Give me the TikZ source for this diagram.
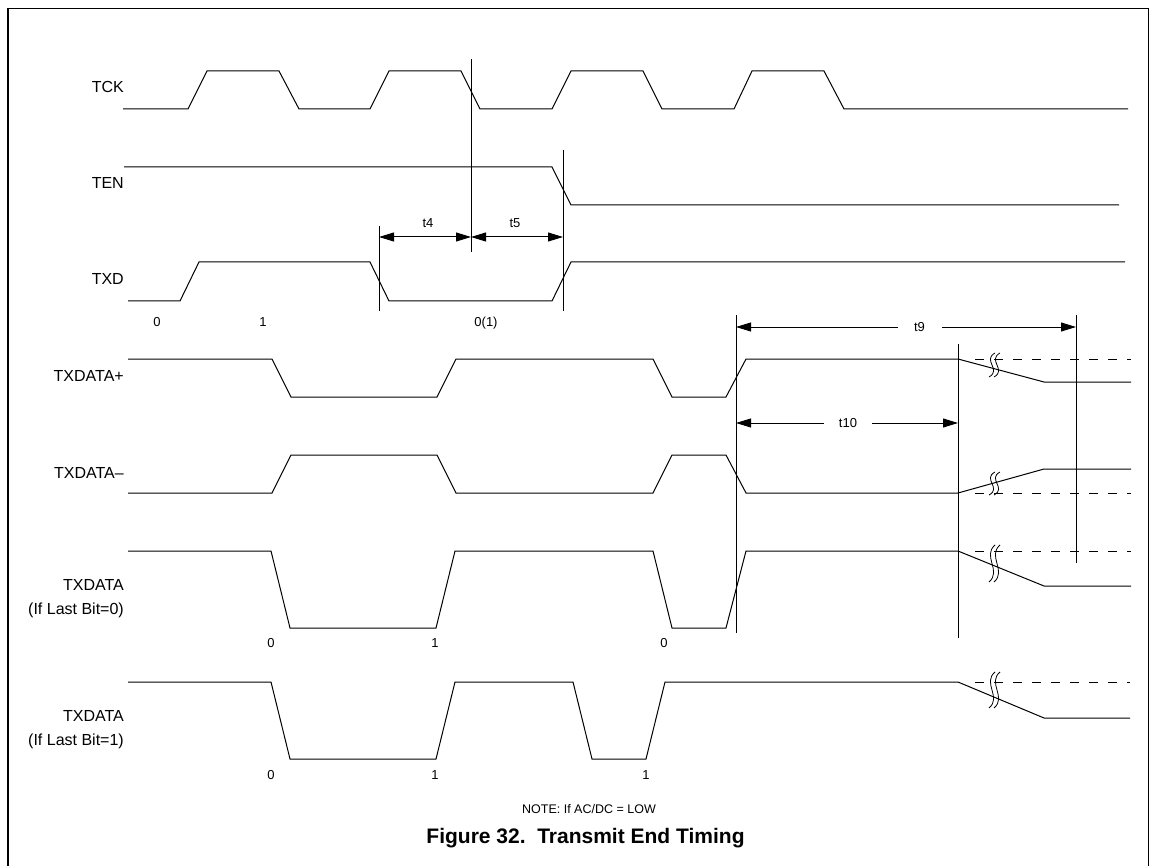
\documentclass[tikz,border=0pt]{standalone}
\usepackage{fontspec}
\setmainfont{Liberation Sans}
\usetikzlibrary{arrows.meta}
\newcommand\brkmark[3]{%
  \foreach \dx in {0,5}{%
    \draw[brkline] ({#1+\dx+3},{#2-#3/2}) .. controls ({#1+\dx-10},{#2-#3/5}) and ({#1+\dx+10},{#2+#3/5}) .. ({#1+\dx-3},{#2+#3/2});}}
\begin{document}
\begin{tikzpicture}[x=1pt,y=-1pt,
  wave/.style={line width=1pt,line join=miter},
  vline/.style={line width=1pt},
  dashpart/.style={line width=1pt,dash pattern=on 9pt off 10pt},
  brkline/.style={line width=0.8pt},
  dim/.style={line width=1pt,{Triangle[length=15pt,width=9pt]}-{Triangle[length=15pt,width=9pt]}},
  framel/.style={line width=1.8pt},
  lbl/.style={font=\fontsize{16}{23.3}\selectfont,anchor=east,align=right,inner sep=0pt},
  sgl/.style={lbl,text height=11.5pt,text depth=0pt},
  val/.style={font=\fontsize{13}{15}\selectfont,inner sep=0pt,text height=9.3pt,text depth=0pt},
  gapval/.style={val,fill=white,minimum width=44pt,minimum height=12pt}
]
\useasboundingbox (0,0) rectangle (1150,866);
% frame
\draw[framel] (8,866) -- (8,8.5) -- (1148.5,8.5) -- (1148.5,866);

% signal labels
\node[sgl] (lTCK) at (124,86.7) {TCK};
\node[sgl] (lTEN) at (124,182.7) {TEN};
\node[sgl] (lTXD) at (124,279) {TXD};
\node[sgl] (lTXP) at (124,375.7) {TXDATA+};
\node[sgl] (lTXM) at (124,472.7) {TXDATA–};
\node[lbl] (lTX0) at (124,598.5) {TXDATA\\(If Last Bit=0)};
\node[lbl] (lTX1) at (124,729.5) {TXDATA\\(If Last Bit=1)};

% TCK
\draw[wave] (123,109) -- (188,109) -- (207,71) -- (279,71) -- (299,109) -- (370,109) -- (389,71) -- (461,71) -- (480,109)
  -- (552,109) -- (571,71) -- (643,71) -- (662,109) -- (734,109) -- (752,71) -- (824,71) -- (844,109) -- (1128,109);
% TEN
\draw[wave] (124,167) -- (552,167) -- (571,205) -- (1119,205);
% TXD
\draw[wave] (128,301) -- (180,301) -- (199,262) -- (370,262) -- (389,301) -- (552,301) -- (571,262) -- (1125,262);

% TXDATA+
\draw[wave] (128,359) -- (272,359) -- (291,397) -- (437,397) -- (456,359) -- (653,359) -- (672,397) -- (726,397)
  -- (746,359) -- (958,359) -- (1044,382) -- (1131,382);
\draw[dashpart] (975,359) -- (1131,359);
% TXDATA-
\draw[wave] (128,493) -- (272,493) -- (291,455) -- (437,455) -- (456,493) -- (653,493) -- (672,455) -- (726,455)
  -- (746,493) -- (958,493) -- (1044,469) -- (1131,469);
\draw[dashpart] (975,493) -- (1131,493);
% TXDATA (0)
\draw[wave] (128,551) -- (271,551) -- (290,628) -- (436,628) -- (455,551) -- (653,551) -- (672,628) -- (726,628)
  -- (746,551) -- (958,551) -- (1044,586) -- (1131,586);
\draw[dashpart] (975,551) -- (1131,551);
% TXDATA (1)
\draw[wave] (128,682) -- (271,682) -- (290,759) -- (436,759) -- (455,682) -- (573,682) -- (592,759) -- (646,759)
  -- (665,682) -- (958,682) -- (1044,718) -- (1130,718);
\draw[dashpart] (975,682) -- (1130,682);

% break marks
\brkmark{992}{365}{24}
\brkmark{992}{483.5}{23}
\brkmark{992}{563.5}{37}
\brkmark{992}{690}{36}

% vertical reference lines
\coordinate (v1t) at (471,59);  \coordinate (v1b) at (471,252);
\coordinate (v2t) at (563,150); \coordinate (v2b) at (563,311);
\coordinate (v3t) at (379,226); \coordinate (v3b) at (379,311);
\coordinate (v4t) at (736,315); \coordinate (v4b) at (736,633);
\coordinate (v5t) at (958,344); \coordinate (v5b) at (958,638);
\coordinate (v6t) at (1076,315); \coordinate (v6b) at (1076,563);
\draw[vline] (v1t) -- (v1b);
\draw[vline] (v2t) -- (v2b);
\draw[vline] (v3t) -- (v3b);
\draw[vline] (v4t) -- (v4b);
\draw[vline] (v5t) -- (v5b);
\draw[vline] (v6t) -- (v6b);

% dimension arrows
\coordinate (t4a) at (379,237); \coordinate (t4b) at (471,237); \coordinate (t5b) at (563,237);
\draw[dim] (t4a) -- (t4b);
\draw[dim] (t4b) -- (t5b);
\node[val] (t4) at (428,223) {t4};
\node[val] (t5) at (515,223) {t5};
\coordinate (t9a) at (736,327); \coordinate (t9b) at (1076,327);
\draw[dim] (t9a) -- (t9b);
\node[gapval] (t9) at (919.5,327) {t9};
\coordinate (t10a) at (736,423); \coordinate (t10b) at (958,423);
\draw[dim] (t10a) -- (t10b);
\node[gapval,minimum width=48pt] (t10) at (848,423) {t10};

% bit values
\node[val] (b1) at (157,322) {0};
\node[val] (b2) at (263,322) {1};
\node[val] (b3) at (486,322) {0(1)};
\node[val] (c1) at (271,643) {0};
\node[val] (c2) at (435,643) {1};
\node[val] (c3) at (664,643) {0};
\node[val] (d1) at (271,775) {0};
\node[val] (d2) at (435,775) {1};
\node[val] (d3) at (646,775) {1};

% note and title
\node[val,font=\fontsize{12.5}{15}\selectfont] (note) at (589,809) {NOTE: If AC/DC = LOW};
\node[inner sep=0pt,font=\fontsize{21}{25}\selectfont\bfseries] (title) at (585.5,838) {Figure 32.\ \ Transmit End Timing};
\end{tikzpicture}
\end{document}
